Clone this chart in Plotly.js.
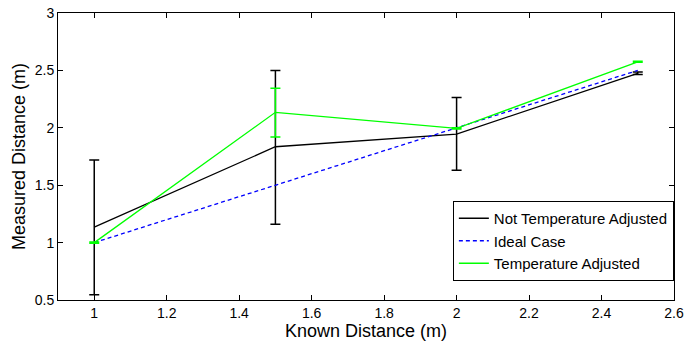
<!DOCTYPE html>
<html>
<head>
<meta charset="utf-8">
<script src="https://cdn.plot.ly/plotly-3.0.1.min.js"></script>
<style>html,body{margin:0;padding:0;background:#fff;}#chart{width:685px;height:343px;}</style>
</head>
<body>
<div id="chart"></div>
<script>
const knownDistance = [1, 1.5, 2, 2.5];
const notAdjusted = [1.135, 1.835, 1.945, 2.475];
const notAdjustedErrPlus = [0.585, 0.665, 0.32, 0.01];
const notAdjustedErrMinus = [0.59, 0.675, 0.315, 0.01];
const idealCase = [1, 1.5, 2, 2.5];
const adjusted = [1.0, 2.135, 1.995, 2.575];
const adjustedErrPlus = [0.005, 0.21, 0.005, 0.005];
const adjustedErrMinus = [0.005, 0.215, 0.005, 0.005];
const seriesNames = ["Not Temperature Adjusted", "Ideal Case", "Temperature Adjusted"];

const traces = [
  {
    x: knownDistance, y: notAdjusted, name: seriesNames[0], type: "scatter", mode: "lines",
    line: {color: "#000000", width: 1.3},
    error_y: {type: "data", symmetric: false, array: notAdjustedErrPlus, arrayminus: notAdjustedErrMinus,
      color: "#000000", thickness: 1.5, width: 5}
  },
  {
    x: knownDistance, y: idealCase, name: seriesNames[1], type: "scatter", mode: "lines",
    line: {color: "#0000ff", width: 1.3, dash: "4px,3px"}
  },
  {
    x: knownDistance, y: adjusted, name: seriesNames[2], type: "scatter", mode: "lines",
    line: {color: "#00ff00", width: 1.3},
    error_y: {type: "data", symmetric: false, array: adjustedErrPlus, arrayminus: adjustedErrMinus,
      color: "#00ff00", thickness: 1.5, width: 5}
  }
];

const layout = {
  width: 685, height: 343,
  margin: {l: 58, r: 11, t: 13, b: 43},
  paper_bgcolor: "#ffffff", plot_bgcolor: "#ffffff",
  font: {family: "Liberation Sans, Arial, sans-serif", color: "#000", size: 14},
  showlegend: true,
  legend: {x: 0.641, y: 0.345, xanchor: "left", yanchor: "top", bgcolor: "#ffffff",
    bordercolor: "#000000", borderwidth: 1, font: {size: 15}, tracegroupgap: 0,
    itemwidth: 30, tracegroupgap: 0},
  xaxis: {
    range: [0.9, 2.6], tick0: 0, dtick: 0.2, ticks: "inside", ticklen: 5, tickcolor: "#000",
    showline: true, linecolor: "#000", linewidth: 1, mirror: "ticks", showgrid: false, zeroline: false,
    tickfont: {size: 14},
    title: {text: "Known Distance (m)", font: {size: 18}, standoff: 2}
  },
  yaxis: {
    range: [0.5, 3], tick0: 0, dtick: 0.5, ticks: "inside", ticklen: 5, tickcolor: "#000",
    showline: true, linecolor: "#000", linewidth: 1, mirror: "ticks", showgrid: false, zeroline: false,
    tickfont: {size: 14},
    title: {text: "Measured Distance (m)", font: {size: 18}, standoff: 4}
  }
};

Plotly.newPlot("chart", traces, layout, {displayModeBar: false, staticPlot: true});
</script>
</body>
</html>
